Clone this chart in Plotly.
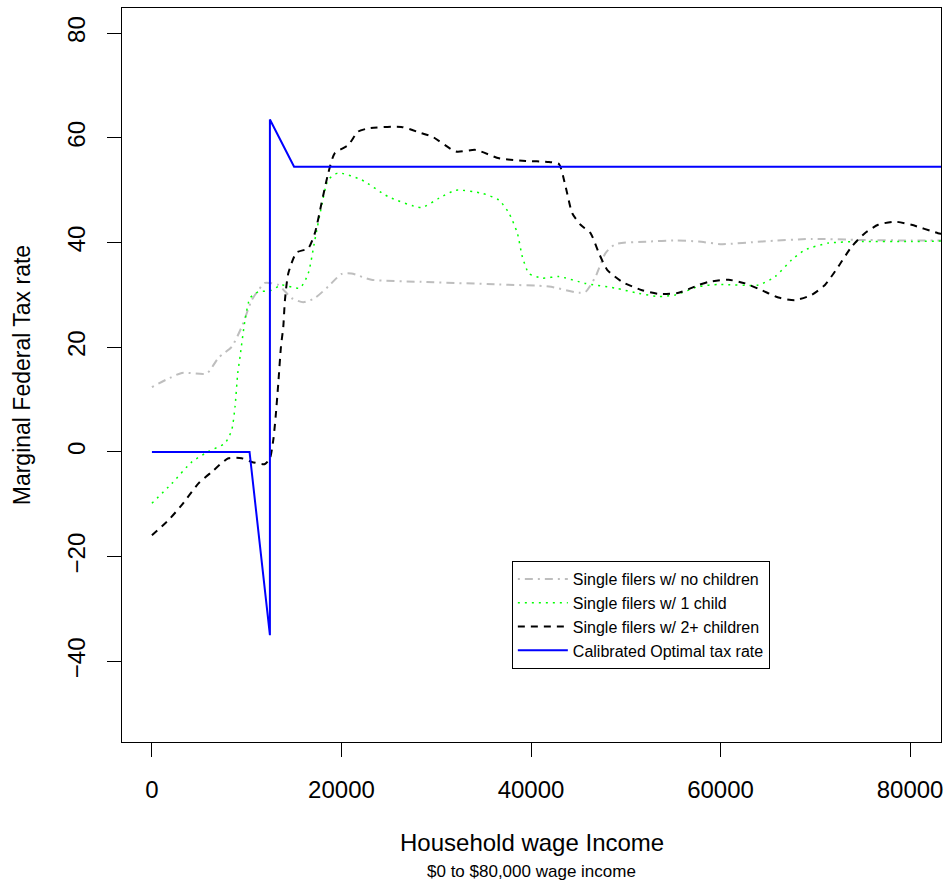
import plotly.graph_objects as go

# Household wage income ($) and marginal federal tax rate (%) per filer type
income_no_kids = [0, 3158, 5789, 7021, 8421, 9474, 10526, 11231, 11926, 13337, 14737,
                  15968, 17189, 18600, 20000, 21053, 23158, 28421, 36632, 41895, 45053,
                  45758, 46810, 47863, 48916, 52421, 55232, 57684, 60137, 64347, 69610,
                  74874, 80137, 83500]
rate_no_kids = [12.4, 15.1, 15.0, 18.0, 20.1, 23.9, 29.0, 30.9, 32.3, 31.9, 29.4,
                28.6, 29.4, 31.6, 34.0, 34.1, 32.9, 32.5, 32.0, 31.6, 30.4,
                30.6, 33.5, 38.0, 39.7, 40.2, 40.4, 40.2, 39.7, 40.2, 40.7,
                40.5, 40.4, 40.4]

income_one_kid = [0, 2105, 4210, 5965, 7719, 8421, 8772, 9053, 9298, 9824, 10351,
                  11228, 12456, 13684, 15614, 16491, 17193, 17895, 18596, 19649, 22105,
                  24912, 28421, 30316, 32070, 34877, 36632, 37684, 38561, 39088, 39789,
                  41193, 42947, 45754, 48912, 51368, 53474, 55228, 57684, 59789, 64000,
                  65754, 67509, 68912, 71368, 74877, 80140, 83500]
rate_one_kid = [-9.8, -6.0, -1.9, 0.1, 1.7, 4.2, 8.7, 15.0, 18.2, 25.2, 29.4,
                30.6, 30.8, 31.9, 31.3, 34.1, 40.5, 46.9, 52.0, 53.3, 52.0,
                48.8, 46.7, 48.5, 50.0, 49.4, 48.1, 45.6, 41.8, 37.3, 34.1,
                33.2, 33.5, 32.2, 31.3, 30.3, 29.7, 30.0, 31.6, 32.0, 31.9,
                33.5, 36.7, 38.6, 39.9, 40.2, 40.2, 40.3]

income_two_kids = [0, 1754, 3158, 4912, 6316, 8070, 9474, 10526, 11930, 12456, 12807,
                   13052, 13333, 13614, 13860, 14035, 14386, 15263, 16491, 17193, 17895,
                   18596, 19298, 20702, 21754, 22807, 26316, 28421, 29614, 32070, 34175,
                   36632, 39439, 41895, 42947, 43649, 44351, 45228, 46281, 47158, 48035,
                   49614, 51719, 53474, 55579, 57684, 58737, 60842, 62596, 64351, 66105,
                   67860, 69614, 71018, 72421, 73825, 75228, 76632, 78386, 80140, 82947,
                   83500]
rate_two_kids = [-15.9, -13.0, -10.1, -6.0, -3.8, -1.2, -1.2, -1.9, -2.3, -1.2, 2.3,
                 6.7, 13.1, 20.1, 23.9, 29.0, 34.1, 38.1, 38.9, 41.8, 47.5,
                 53.2, 57.1, 58.6, 61.2, 61.8, 62.1, 60.9, 60.2, 57.4, 57.7,
                 56.1, 55.6, 55.4, 55.0, 50.7, 45.6, 43.4, 41.8, 38.0, 34.8,
                 32.5, 30.9, 30.2, 30.4, 31.9, 32.5, 32.9, 32.2, 30.9, 29.5,
                 29.0, 30.0, 31.9, 35.4, 39.2, 41.8, 43.4, 44.0, 43.4, 41.8,
                 41.6]

income_optimal = [0, 10300, 12450, 12450, 15000, 90000]
rate_optimal = [0, 0, -35.0, 63.5, 54.5, 54.5]

x_ticks = [0, 20000, 40000, 60000, 80000]
y_ticks = [-40, -20, 0, 20, 40, 60, 80]

FONT = "Liberation Sans, Arial, Helvetica, sans-serif"

fig = go.Figure()
fig.add_trace(go.Scatter(
    x=income_no_kids, y=rate_no_kids, mode="lines",
    name="Single filers w/ no children",
    line=dict(color="#BEBEBE", width=2, dash="2px,5px,8px,5px", shape="spline", smoothing=0.6),
))
fig.add_trace(go.Scatter(
    x=income_one_kid, y=rate_one_kid, mode="lines",
    name="Single filers w/ 1 child",
    line=dict(color="#00FF00", width=1.5, dash="2px,5px", shape="spline", smoothing=0.6),
))
fig.add_trace(go.Scatter(
    x=income_two_kids, y=rate_two_kids, mode="lines",
    name="Single filers w/ 2+ children",
    line=dict(color="black", width=2, dash="7px,6px", shape="spline", smoothing=0.6),
))
fig.add_trace(go.Scatter(
    x=income_optimal, y=rate_optimal, mode="lines",
    name="Calibrated Optimal tax rate",
    line=dict(color="#0000FF", width=2),
))

fig.update_layout(
    width=950, height=888,
    margin=dict(l=122, r=7, t=8, b=146),
    paper_bgcolor="white", plot_bgcolor="white",
    font=dict(family=FONT, size=24, color="black"),
    showlegend=True,
    legend=dict(
        x=0.476, y=0.2466, xanchor="left", yanchor="top",
        bordercolor="black", borderwidth=1, bgcolor="white",
        font=dict(family=FONT, size=16),
        tracegroupgap=0, itemwidth=50,
    ),
    annotations=[
        dict(text="Household wage Income", xref="paper", yref="paper",
             x=0.5, y=-0.1376, xanchor="center", yanchor="middle",
             showarrow=False, font=dict(size=24)),
        dict(text="$0 to $80,000 wage income", xref="paper", yref="paper",
             x=0.5, y=-0.177, xanchor="center", yanchor="middle",
             showarrow=False, font=dict(size=17)),
        dict(text="Marginal Federal Tax rate", xref="paper", yref="paper",
             x=-0.1218, y=0.5, xanchor="center", yanchor="middle", textangle=-90,
             showarrow=False, font=dict(size=23)),
    ],
)

fig.update_xaxes(
    range=[-3158, 83263], tickvals=x_ticks, ticktext=[str(v) for v in x_ticks],
    ticks="outside", ticklen=14, tickwidth=1, tickcolor="black",
    showline=True, linecolor="black", linewidth=1, mirror=True,
    showgrid=False, zeroline=False, ticklabelstandoff=12,
)
fig.update_yaxes(
    range=[-55.4, 84.81], tickvals=y_ticks, ticktext=[str(v).replace("-", "\u2212") for v in y_ticks],
    tickangle=-90,
    ticks="outside", ticklen=14, tickwidth=1, tickcolor="black",
    showline=True, linecolor="black", linewidth=1, mirror=True,
    showgrid=False, zeroline=False, ticklabelstandoff=12,
)

fig.write_html("out.html")
